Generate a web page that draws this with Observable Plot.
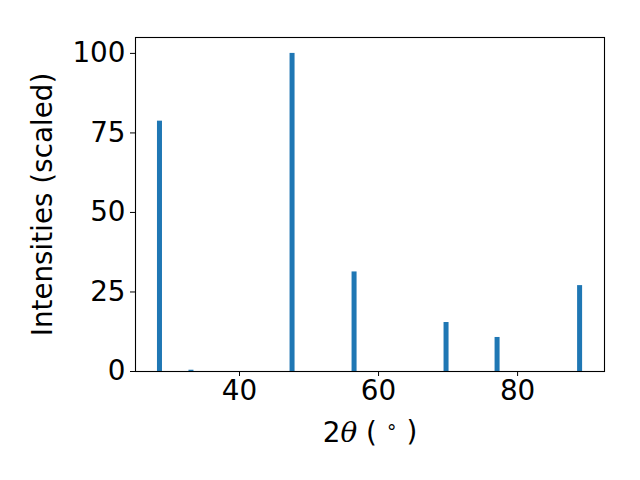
<!DOCTYPE html>
<html>
<head>
<meta charset="utf-8">
<script src="https://cdn.jsdelivr.net/npm/d3@7"></script>
<script src="https://cdn.jsdelivr.net/npm/@observablehq/plot@0.6"></script>
<style>
  html, body { margin: 0; padding: 0; background: #fff; }
  #chart svg text { font-size: 27.8px; font-family: "DejaVu Sans"; fill: black; }
</style>
</head>
<body>
<div id="chart"></div>
<script>
// Peak positions (2θ, degrees) and scaled intensities
const twoTheta = [28.56, 33.09, 47.63, 56.55, 69.78, 77.12, 88.99];
const intensity = [78.7, 0.4, 100, 31.3, 15.4, 10.7, 27.0];
const xTicks = [40, 60, 80];
const yTicks = [0, 25, 50, 75, 100];

const data = twoTheta.map((t, i) => ({t, v: intensity[i]}));
const halfW = 0.36;

const chart = Plot.plot({
  width: 640,
  height: 480,
  marginLeft: 135,
  marginRight: 36,
  marginTop: 37,
  marginBottom: 109,
  style: {fontFamily: "DejaVu Sans", fontSize: "27.8px", color: "black", background: "white"},
  x: {domain: [25.04, 92.5]},
  y: {domain: [0, 105]},
  marks: [
    Plot.rectY(data, {x1: d => d.t - halfW, x2: d => d.t + halfW, y1: 0, y2: "v", fill: "#1f77b4"}),
    Plot.frame({stroke: "black", strokeWidth: 1.1}),
    Plot.axisX({ticks: xTicks, tickSize: 5, tickPadding: 4, label: "2θ (°)", labelAnchor: "center", labelArrow: "none", labelOffset: 70}),
    Plot.axisY({ticks: yTicks, tickSize: 5, tickPadding: 5, label: "Intensities (scaled)", labelAnchor: "center", labelArrow: "none", labelOffset: 103})
  ]
});
document.getElementById("chart").appendChild(chart);

// Style the x label like matplotlib mathtext: italic θ and superscript ring
d3.select(chart).selectAll("text").each(function() {
  const t = d3.select(this);
  if (t.text() === "2θ (°)") {
    t.text(null);
    t.append("tspan").text("2");
    t.append("tspan").attr("style", "font-style: italic; font-family: 'DejaVu Serif'").text("θ");
    t.append("tspan").text(" ( ");
    t.append("tspan").attr("style", "font-size: 19px").attr("dy", "-0.45em").text("∘");
    t.append("tspan").attr("dy", "0.3em").text(" )");
  }
});
</script>
</body>
</html>
